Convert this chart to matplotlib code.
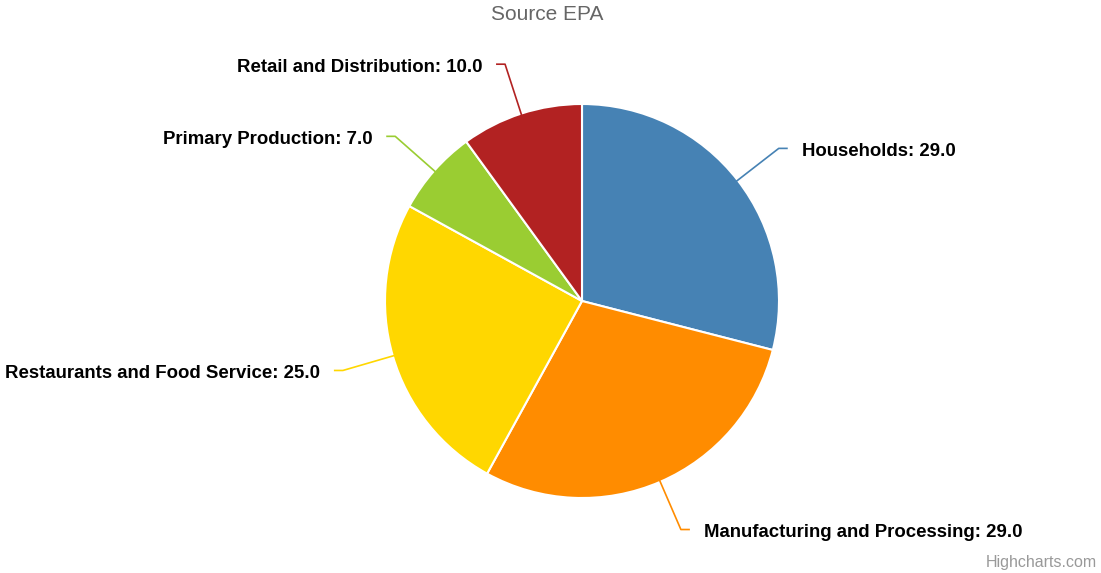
import numpy as np
import matplotlib.pyplot as plt

# food waste by sector, Source EPA
labels = ['Households', 'Manufacturing and Processing', 'Restaurants and Food Service',
          'Primary Production', 'Retail and Distribution']
values = [29.0, 29.0, 25.0, 7.0, 10.0]
colors = ['#4682B4', '#FF8C00', '#FFD700', '#9ACD32', '#B22222']

W, H = 1101, 573
cx, cy, r = 582, H - 301, 197

fig = plt.figure(figsize=(W / 100, H / 100), dpi=100)
ax = fig.add_axes([0, 0, 1, 1])

wedges, _ = ax.pie(values, colors=colors, startangle=90, counterclock=False,
                   center=(cx, cy), radius=r,
                   wedgeprops=dict(edgecolor='white', linewidth=1.5))

# pie() resets the limits, so set them afterwards
ax.set_xlim(0, W)
ax.set_ylim(0, H)
ax.set_aspect('equal')
ax.axis('off')

for w, lab, val, col in zip(wedges, labels, values, colors):
    ang = np.deg2rad((w.theta1 + w.theta2) / 2)
    c, s = np.cos(ang), np.sin(ang)
    x0, y0 = cx + (r - 3) * c, cy + (r - 3) * s
    x1, y1 = cx + 249 * c, cy + 249 * s
    side = 1 if c >= 0 else -1
    x2 = x1 + side * 9
    ax.plot([x0, x1, x2], [y0, y1, y1], color=col, lw=1.2, solid_capstyle='butt')
    ax.text(x2 + side * 14, y1 - 3, f'{lab}: {val:.1f}', ha='left' if side > 0 else 'right',
            va='center', fontsize=13.4, fontweight='bold', family='Liberation Sans',
            color='black')

fig.text(547 / W, 1 - 15 / H, 'Source EPA', ha='center', va='center',
         fontsize=15, color='#666666', family='Liberation Sans')
fig.text(1097 / W, 1 - 562 / H, 'Highcharts.com', ha='right', va='center',
         fontsize=11.5, color='#999999', family='Liberation Sans')

fig.savefig('out.png', dpi=100, facecolor='white')
